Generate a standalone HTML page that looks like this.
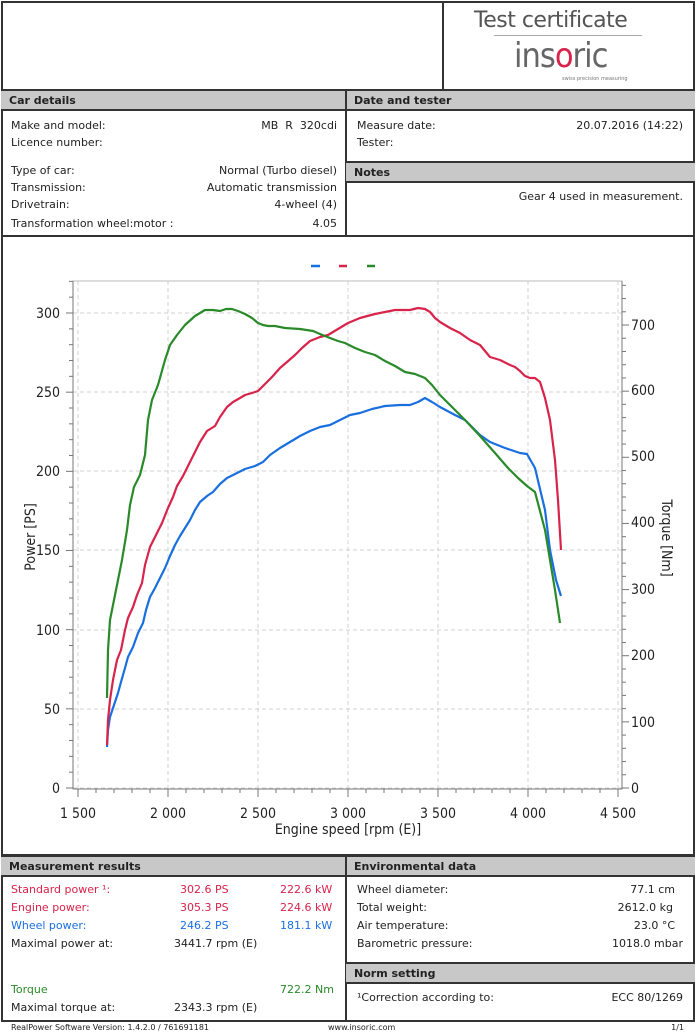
<!DOCTYPE html>
<html><head><meta charset="utf-8"><style>
*{margin:0;padding:0;box-sizing:border-box}
body{width:695px;height:1034px;background:#fff;font-family:"DejaVu Sans","Liberation Sans",sans-serif;font-size:11px;color:#222;position:relative;overflow:hidden}
.a{position:absolute;white-space:nowrap}
.b{position:absolute;border:2px solid #333}
.h{position:absolute;background:#c8c8c8;border-bottom:2px solid #333;border-top:2px solid #333;font-weight:bold;font-size:11px;padding:3px 0 0 8px;height:22px}
.r{text-align:right}
.red{color:#d8234a}.blue{color:#1a6fe0}.green{color:#2a8a2a}
</style></head><body>
<div class="b" style="left:1px;top:1px;width:694px;height:1021px"></div>
<div class="a" style="left:442px;top:1px;width:2px;height:89px;background:#333"></div>
<div class="a" style="left:474px;top:8px;font-size:22px;color:#555;font-family:'DejaVu Sans',sans-serif;letter-spacing:-0.5px">Test certificate</div>
<div class="a" style="left:494px;top:35px;width:148px;height:1px;background:#aaa"></div>
<div class="a" style="left:514px;top:36px;font-size:34px;color:#666;font-family:'DejaVu Sans Condensed','DejaVu Sans',sans-serif;letter-spacing:-1px">ins<span style="color:#d8234a">o</span>ric</div>
<div class="a" style="left:562px;top:76px;font-size:5px;color:#777">swiss precision measuring</div>

<div class="h" style="left:1px;top:89px;width:345px">Car details</div>
<div class="h" style="left:346px;top:89px;width:349px">Date and tester</div>
<div class="a" style="left:345px;top:89px;width:2px;height:147px;background:#333"></div>
<div class="a" style="left:11px;top:119px">Make and model:</div><div class="a r" style="right:358px;top:119px">MB&nbsp; R&nbsp; 320cdi</div>
<div class="a" style="left:11px;top:136px">Licence number:</div>
<div class="a" style="left:11px;top:164px">Type of car:</div><div class="a" style="right:358px;top:164px">Normal (Turbo diesel)</div>
<div class="a" style="left:11px;top:181px">Transmission:</div><div class="a" style="right:358px;top:181px">Automatic transmission</div>
<div class="a" style="left:11px;top:198px">Drivetrain:</div><div class="a" style="right:358px;top:198px">4-wheel (4)</div>
<div class="a" style="left:11px;top:217px">Transformation wheel:motor :</div><div class="a" style="right:358px;top:217px">4.05</div>
<div class="a" style="left:357px;top:119px">Measure date:</div><div class="a" style="right:12px;top:119px">20.07.2016 (14:22)</div>
<div class="a" style="left:357px;top:136px">Tester:</div>
<div class="h" style="left:346px;top:161px;width:349px">Notes</div>
<div class="a" style="right:12px;top:190px">Gear 4 used in measurement.</div>
<div class="a" style="left:1px;top:235px;width:694px;height:2px;background:#333"></div>

<svg class="a" style="left:0;top:0" width="695" height="860" font-family="DejaVu Sans Condensed,DejaVu Sans,sans-serif">
<g stroke-width="2.5"><line x1="311" y1="266" x2="320" y2="266" stroke="#1a6fe0"/><line x1="339" y1="266" x2="347" y2="266" stroke="#d8234a"/><line x1="367" y1="266" x2="375" y2="266" stroke="#2a8a2a"/></g>
<rect x="73" y="281" width="549" height="508" fill="none" stroke="#bbb"/>
<g stroke="#d0d0d0" stroke-dasharray="4,3">
<line x1="78" y1="281" x2="78" y2="789"/><line x1="168" y1="281" x2="168" y2="789"/><line x1="258" y1="281" x2="258" y2="789"/><line x1="348" y1="281" x2="348" y2="789"/><line x1="438" y1="281" x2="438" y2="789"/><line x1="528" y1="281" x2="528" y2="789"/><line x1="618" y1="281" x2="618" y2="789"/>
<line x1="73" y1="313" x2="622" y2="313"/><line x1="73" y1="392" x2="622" y2="392"/><line x1="73" y1="471" x2="622" y2="471"/><line x1="73" y1="550" x2="622" y2="550"/><line x1="73" y1="630" x2="622" y2="630"/><line x1="73" y1="709" x2="622" y2="709"/><line x1="73" y1="788" x2="622" y2="788"/>
</g>
<g stroke="#777"><line x1="73" y1="281" x2="73" y2="789"/><line x1="622" y1="281" x2="622" y2="789"/><line x1="73" y1="789" x2="622" y2="789"/></g>
<g stroke="#777" id="t"></g>
<g font-size="14" fill="#222" text-anchor="end">
<text x="60" y="318">300</text><text x="60" y="397">250</text><text x="60" y="476">200</text><text x="60" y="555">150</text><text x="60" y="635">100</text><text x="60" y="714">50</text><text x="60" y="793">0</text></g>
<g font-size="14" fill="#222">
<text x="631" y="330">700</text><text x="631" y="395">600</text><text x="631" y="461">500</text><text x="631" y="527">400</text><text x="631" y="594">300</text><text x="631" y="660">200</text><text x="631" y="727">100</text><text x="631" y="793">0</text></g>
<g font-size="14" fill="#222" text-anchor="middle">
<text x="78" y="818">1 500</text><text x="168" y="818">2 000</text><text x="258" y="818">2 500</text><text x="348" y="818">3 000</text><text x="438" y="818">3 500</text><text x="528" y="818">4 000</text><text x="618" y="818">4 500</text>
<text x="348" y="834">Engine speed [rpm (E)]</text>
<text transform="translate(35,537) rotate(-90)">Power [PS]</text>
<text transform="translate(662,538) rotate(90)">Torque [Nm]</text></g>
<g fill="none" stroke-width="2.2" stroke-linejoin="round">
<polyline stroke="#1a6fe0" points="107,747 108,730 110,717 114,705 118,693 121,682 125,668 128,657 133,647 138,633 143,623 146,610 150,597 155,588 160,578 165,568 170,556 175,545 180,536 185,528 190,520 195,510 200,502 207,496 213,492 220,484 227,478 235,474 245,469 255,466 263,462 270,455 280,448 290,442 300,436 310,431 320,427 330,425 340,420 350,415 360,413 372,409 385,406 400,405 410,405 418,402 425,398 432,402 440,407 455,415 465,420 480,435 490,442 505,448 520,453 527,454 535,468 545,510 550,550 556,580 561,596"/>
<polyline stroke="#d8234a" points="107,745 108,720 110,700 113,680 117,660 121,650 125,630 128,618 133,607 137,595 142,583 145,565 150,547 155,537 162,523 168,508 173,497 177,486 183,476 188,466 195,452 200,442 207,431 215,426 220,417 227,407 233,402 240,398 245,395 252,393 258,391 265,384 272,377 280,368 287,362 295,355 302,348 310,341 320,337 328,335 338,329 348,323 360,318 375,314 385,312 395,310 400,310 410,310 418,308 425,309 430,312 435,318 440,322 450,328 460,333 470,340 480,345 490,357 500,360 510,365 515,367 520,371 525,376 530,378 535,378 540,382 545,398 550,420 555,460 558,500 561,550"/>
<polyline stroke="#2a8a2a" points="107,698 108,650 110,620 113,605 118,580 122,560 127,530 130,505 134,487 140,475 145,455 148,420 152,400 158,385 165,360 170,345 177,335 185,325 195,316 205,310 213,310 220,311 226,309 232,309 238,311 245,314 252,318 258,323 263,325 268,326 275,326 285,328 300,329 313,331 320,334 330,338 338,341 345,343 355,348 365,352 375,355 385,361 395,366 405,372 415,374 425,378 432,385 440,395 450,405 465,420 480,436 495,453 508,468 518,478 527,486 535,492 545,530 550,560 555,590 560,623"/>
</g>
</svg>
<script>
var g=document.getElementById('t'),s='';
for(var p=0;p<=320;p+=10){var y=788-p*1.5833;s+='<line x1="'+(p%50?69:66)+'" y1="'+y+'" x2="73" y2="'+y+'"/>';}
for(var n=0;n<=760;n+=20){var y=788-n*0.6614;s+='<line x1="622" y1="'+y+'" x2="'+(n%100?626:629)+'" y2="'+y+'"/>';}
for(var r=1500;r<=4500;r+=100){var x=78+(r-1500)*0.18;s+='<line x1="'+x+'" y1="789" x2="'+x+'" y2="'+(r%500?793:797)+'"/>';}
g.innerHTML=s;
</script>

<div class="a" style="left:1px;top:854px;width:694px;height:2px;background:#333"></div>
<div class="h" style="left:1px;top:855px;width:345px">Measurement results</div>
<div class="h" style="left:346px;top:855px;width:349px">Environmental data</div>
<div class="a" style="left:345px;top:855px;width:2px;height:167px;background:#333"></div>
<div class="a red" style="left:11px;top:883px">Standard power ¹:</div><div class="a red" style="left:180px;top:883px">302.6 PS</div><div class="a red" style="left:280px;top:883px">222.6 kW</div>
<div class="a red" style="left:11px;top:901px">Engine power:</div><div class="a red" style="left:180px;top:901px">305.3 PS</div><div class="a red" style="left:280px;top:901px">224.6 kW</div>
<div class="a blue" style="left:11px;top:919px">Wheel power:</div><div class="a blue" style="left:180px;top:919px">246.2 PS</div><div class="a blue" style="left:280px;top:919px">181.1 kW</div>
<div class="a" style="left:11px;top:937px">Maximal power at:</div><div class="a" style="left:174px;top:937px">3441.7 rpm (E)</div>
<div class="a green" style="left:11px;top:983px">Torque</div><div class="a green" style="left:280px;top:983px">722.2 Nm</div>
<div class="a" style="left:11px;top:1001px">Maximal torque at:</div><div class="a" style="left:174px;top:1001px">2343.3 rpm (E)</div>
<div class="a" style="left:357px;top:883px">Wheel diameter:</div><div class="a" style="right:20px;top:883px">77.1 cm</div>
<div class="a" style="left:357px;top:901px">Total weight:</div><div class="a" style="right:22px;top:901px">2612.0 kg</div>
<div class="a" style="left:357px;top:919px">Air temperature:</div><div class="a" style="right:20px;top:919px">23.0 °C</div>
<div class="a" style="left:357px;top:937px">Barometric pressure:</div><div class="a" style="right:12px;top:937px">1018.0 mbar</div>
<div class="h" style="left:346px;top:962px;width:349px">Norm setting</div>
<div class="a" style="left:357px;top:991px">¹Correction according to:</div><div class="a" style="right:12px;top:991px">ECC 80/1269</div>
<div class="a" style="left:11px;top:1023px;font-size:8px">RealPower Software Version: 1.4.2.0 / 761691181</div>
<div class="a" style="left:328px;top:1023px;font-size:8px">www.insoric.com</div>
<div class="a" style="right:11px;top:1023px;font-size:8px">1/1</div>
</body></html>
